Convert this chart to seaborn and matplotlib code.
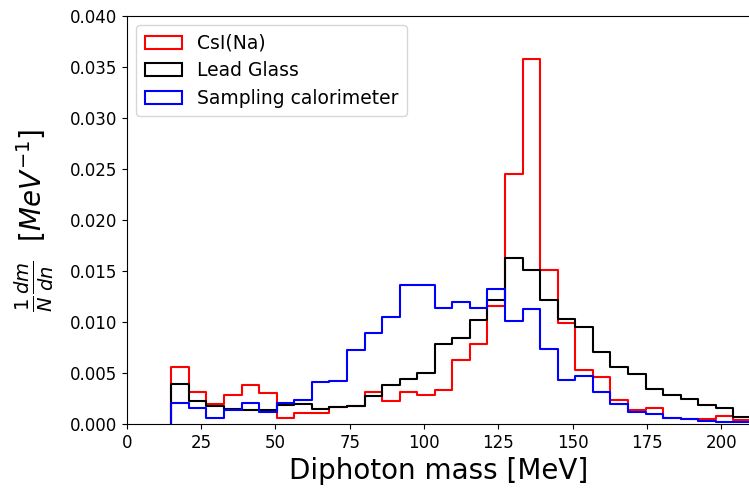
import numpy as np
import pandas as pd
import matplotlib
matplotlib.use("Agg")
import matplotlib.pyplot as plt
from matplotlib.patches import Patch
import seaborn as sns

# ---- data ----
bin_lo, bin_hi, n_bins = 15.0, 210.0, 33

labels = ["CsI(Na)", "Lead Glass", "Sampling calorimeter"]
colors = ["red", "black", "blue"]

csi = [0.0056, 0.0031, 0.0020, 0.0028, 0.0038, 0.0030, 0.0006, 0.00105, 0.00105,
       0.0017, 0.00175, 0.0031, 0.0023, 0.0031, 0.0028, 0.0033, 0.0063, 0.0078,
       0.0116, 0.0245, 0.0358, 0.0151, 0.0099, 0.0053, 0.0046, 0.0024, 0.0014,
       0.0016, 0.0006, 0.0005, 0.0005, 0.0008, 0.0004]
lead_glass = [0.0039, 0.0023, 0.0018, 0.0015, 0.0014, 0.0014, 0.0019, 0.0020, 0.0015,
              0.0017, 0.0018, 0.0027, 0.0038, 0.0044, 0.0050, 0.0078, 0.0084, 0.0102,
              0.0122, 0.0163, 0.0151, 0.0122, 0.0103, 0.0095, 0.0071, 0.0056, 0.0049,
              0.0034, 0.0028, 0.0025, 0.0019, 0.0016, 0.0007]
sampling = [0.0021, 0.0016, 0.0006, 0.0014, 0.0021, 0.0012, 0.0021, 0.0024, 0.0041,
            0.0042, 0.0073, 0.0089, 0.0105, 0.0136, 0.0136, 0.0114, 0.0120, 0.0114,
            0.0132, 0.0101, 0.0113, 0.0074, 0.0043, 0.0047, 0.0031, 0.0020, 0.0012,
            0.0010, 0.0006, 0.00046, 0.0003, 0.00017, 0.00015]

series = [csi, lead_glass, sampling]

edges = np.linspace(bin_lo, bin_hi, n_bins + 1)
centers = 0.5 * (edges[:-1] + edges[1:])

fig = plt.figure(figsize=(7.49, 4.90), dpi=100)
ax = fig.add_axes([126.7 / 749, 66 / 490, (751 - 126.7) / 749, 408 / 490])

for lab, col, vals in zip(labels, colors, series):
    df = pd.DataFrame({"mass": centers, "w": vals})
    sns.histplot(data=df, x="mass", weights="w", bins=n_bins,
                 binrange=(bin_lo, bin_hi), element="step",
                 fill=False, color=col, linewidth=1.5, ax=ax)
    line = ax.lines[-1]
    xd = np.asarray(line.get_xdata(), dtype=float)
    yd = np.asarray(line.get_ydata(), dtype=float)
    line.set_data(np.r_[xd[0], xd, xd[-1]], np.r_[0.0, yd, 0.0])

ax.set_xlim(0, 210)
ax.set_ylim(0, 0.040)
ax.set_xticks(np.arange(0, 201, 25))
ax.set_yticks(np.arange(0, 0.0401, 0.005))
ax.yaxis.set_major_formatter(matplotlib.ticker.FormatStrFormatter("%.3f"))
ax.tick_params(labelsize=12)
ax.set_xlabel("Diphoton mass [MeV]", fontsize=20)
ax.set_ylabel(r"$\frac{1}{N}\frac{dm}{dn}$  $[MeV^{-1}]$", fontsize=20,
              labelpad=10)

handles = [Patch(facecolor="none", edgecolor=c, linewidth=1.5) for c in colors]
ax.legend(handles, labels, loc="upper left", fontsize=13.5, labelspacing=0.45,
          borderpad=0.45)

fig.savefig("out.png", dpi=100)
